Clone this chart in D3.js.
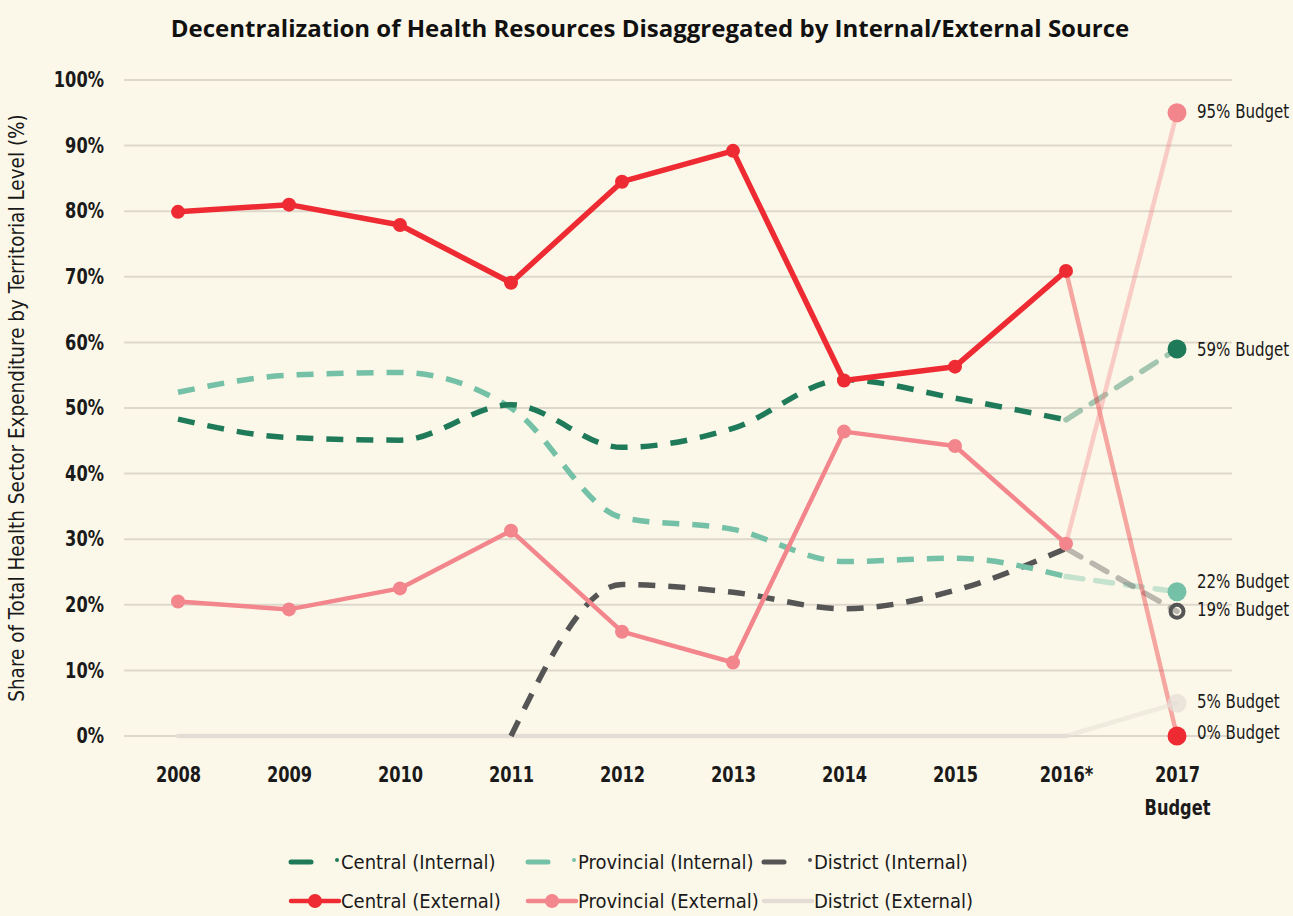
<!DOCTYPE html>
<html lang="en">
<head>
  <meta charset="UTF-8">
  <title>Decentralization of Health Resources</title>
  <script src="https://d3js.org/d3.v7.min.js"></script>
  <style>
    body { margin: 0; background: #fcf8e9; }
    svg { display: block; }
    .narrow { font-family: "Liberation Sans Narrow", "DejaVu Sans Condensed", "Roboto Condensed", sans-serif; }
    .title { font-family: "Open Sans", "Noto Sans", sans-serif; font-weight: bold; font-size: 24px; fill: #111; }
    .tick text { font-weight: bold; font-size: 21px; fill: #1a1a1a; }
    .grid line { stroke: #ddd8cb; stroke-width: 2px; }
    .legend text { font-size: 20px; fill: #1a1a1a; }
    .endlabel { font-size: 19px; fill: #1a1a1a; }
  </style>
</head>
<body>
  <svg width="1293" height="916"></svg>
  <script>
    // years along the x axis (last one is the 2017 budget)
    const years = ["2008", "2009", "2010", "2011", "2012", "2013", "2014", "2015", "2016*", "2017"];
    const yTicks = [0, 10, 20, 30, 40, 50, 60, 70, 80, 90, 100];

    // shares in %
    const centralInternal    = [48.3, 45.5, 45.1, 50.5, 44.0, 46.9, 54.3, 51.5, 48.2, 59];
    const provincialInternal = [52.4, 55.0, 55.4, 50.0, 33.3, 31.5, 26.6, 27.1, 24.3, 22];
    const districtInternal   = [null, null, null, 0, 23.1, 21.9, 19.4, 22.2, 28.6, 19];
    const centralExternal    = [79.9, 81.0, 77.9, 69.1, 84.5, 89.2, 54.2, 56.3, 70.9, 0];
    const provincialExternal = [20.5, 19.3, 22.5, 31.3, 15.9, 11.2, 46.4, 44.2, 29.3, 95];
    const districtExternal   = [0, 0, 0, 0, 0, 0, 0, 0, 0, 5];

    const series = [
      { name: "Central (Internal)",    values: centralInternal,    color: "#1f7a5a", dash: true,  label: "59% Budget", dy: 0 },
      { name: "Provincial (Internal)", values: provincialInternal, color: "#74c1a7", dash: true,  label: "22% Budget", dy: -10 },
      { name: "District (Internal)",   values: districtInternal,   color: "#555555", dash: true,  label: "19% Budget", dy: -2 },
      { name: "Central (External)",    values: centralExternal,    color: "#ee2b33", dash: false, label: "0% Budget",  dy: -4, marker: true },
      { name: "Provincial (External)", values: provincialExternal, color: "#f2868c", dash: false, label: "95% Budget", dy: -1, marker: true },
      { name: "District (External)",   values: districtExternal,   color: "#e4ddd5", dash: false, label: "5% Budget",  dy: -2 }
    ];

    const svg = d3.select("svg");

    const x = d3.scalePoint().domain(years).range([178, 1177]);
    const y = d3.scaleLinear().domain([0, 100]).range([736, 80]);

    svg.append("text")
      .attr("class", "title")
      .attr("x", 650).attr("y", 37)
      .attr("text-anchor", "middle")
      .text("Decentralization of Health Resources Disaggregated by Internal/External Source");

    // horizontal grid
    svg.append("g").attr("class", "grid")
      .selectAll("line").data(yTicks).join("line")
      .attr("x1", 124).attr("x2", 1232)
      .attr("y1", d => y(d)).attr("y2", d => y(d));

    // y axis labels
    const yAxis = svg.append("g").attr("class", "narrow")
      .attr("transform", "translate(104,0)")
      .call(d3.axisLeft(y).tickValues(yTicks).tickFormat(d => d + "%").tickSize(0).tickPadding(0));
    yAxis.select(".domain").remove();
    yAxis.selectAll(".tick text").attr("transform", "scale(0.86,1)");

    // x axis labels
    const xAxis = svg.append("g").attr("class", "narrow")
      .attr("transform", "translate(0,766)")
      .call(d3.axisBottom(x).tickSize(0).tickPadding(0));
    xAxis.select(".domain").remove();
    xAxis.selectAll(".tick text").attr("dy", "0.75em").attr("transform", "scale(0.86,1)");
    xAxis.selectAll(".tick").filter(d => d === "2017")
      .append("text")
      .attr("y", 33).attr("dy", "0.75em")
      .attr("fill", "#1a1a1a")
      .attr("transform", "scale(0.86,1)")
      .text("Budget");

    svg.append("text")
      .attr("class", "narrow")
      .attr("transform", "translate(24,408) rotate(-90)")
      .attr("text-anchor", "middle")
      .attr("font-size", 20.5)
      .attr("fill", "#1a1a1a")
      .text("Share of Total Health Sector Expenditure by Territorial Level (%)");

    const lastYear = years[years.length - 1];
    const prevYear = years[years.length - 2];

    const plot = svg.append("g");

    // faded budget segments (2016* -> 2017) drawn first
    series.forEach(s => {
      const a = s.values[s.values.length - 2];
      const b = s.values[s.values.length - 1];
      plot.append("line")
        .attr("x1", x(prevYear)).attr("y1", y(a))
        .attr("x2", x(lastYear)).attr("y2", y(b))
        .attr("stroke", s.color)
        .attr("stroke-opacity", s.name === "District (External)" ? 0.5 : 0.4)
        .attr("stroke-width", s.dash ? 5.5 : 4.5)
        .attr("stroke-dasharray", s.dash ? "17,13" : null)
        .attr("stroke-linecap", "round");
    });

    const order = [5, 2, 1, 0, 4, 3];
    order.forEach(i => {
      const s = series[i];
      const pts = years.slice(0, -1).map((yr, j) => ({ yr, v: s.values[j] }));
      const line = d3.line()
        .defined(d => d.v !== null)
        .x(d => x(d.yr)).y(d => y(d.v))
        .curve(s.dash ? d3.curveMonotoneX : d3.curveLinear);
      plot.append("path")
        .attr("d", line(pts))
        .attr("fill", "none")
        .attr("stroke", s.color)
        .attr("stroke-width", s.dash ? 5.5 : (i === 3 ? 5.5 : 4.5))
        .attr("stroke-dasharray", s.dash ? "17,13" : null)
        .attr("stroke-linecap", s.dash ? "butt" : "round")
        .attr("stroke-linejoin", "round");
      if (s.marker) {
        plot.selectAll(null).data(pts).join("circle")
          .attr("cx", d => x(d.yr)).attr("cy", d => y(d.v))
          .attr("r", 7)
          .attr("fill", s.color);
      }
    });

    // 2017 budget end points and labels
    series.forEach(s => {
      const v = s.values[s.values.length - 1];
      const g = svg.append("g");
      if (s.name === "District (Internal)") {
        g.append("circle").attr("cx", x(lastYear)).attr("cy", y(v)).attr("r", 6.5)
          .attr("fill", "none").attr("stroke", s.color).attr("stroke-width", 4);
      } else {
        g.append("circle").attr("cx", x(lastYear)).attr("cy", y(v)).attr("r", 9.5)
          .attr("fill", s.color)
          .attr("fill-opacity", s.name === "District (External)" ? 0.7 : 1);
      }
      g.append("text")
        .attr("class", "narrow endlabel")
        .attr("transform", `translate(${x(lastYear) + 20},${y(v) + s.dy}) scale(0.88,1)`)
        .attr("dy", "0.35em")
        .text(s.label);
    });

    // legend
    const legend = svg.append("g").attr("class", "legend narrow");
    const colX = [291, 528, 764];
    series.forEach((s, i) => {
      const cx = colX[i % 3];
      const cy = i < 3 ? 862 : 901;
      const g = legend.append("g").attr("transform", `translate(${cx},${cy})`);
      if (s.dash) {
        g.append("line").attr("x1", 0).attr("x2", 20).attr("y1", 0).attr("y2", 0)
          .attr("stroke", s.color).attr("stroke-width", 5).attr("stroke-linecap", "round");
        g.append("circle").attr("cx", 46).attr("cy", -2).attr("r", 2).attr("fill", s.color);
      } else {
        g.append("line").attr("x1", 0).attr("x2", 48).attr("y1", 0).attr("y2", 0)
          .attr("stroke", s.color).attr("stroke-width", 4.5).attr("stroke-linecap", "round");
        if (s.marker) {
          g.append("circle").attr("cx", 24).attr("cy", 0).attr("r", 7).attr("fill", s.color);
        }
      }
      g.append("text").attr("x", 50).attr("y", 0).attr("dy", "0.35em").text(s.name);
    });
  </script>
</body>
</html>
